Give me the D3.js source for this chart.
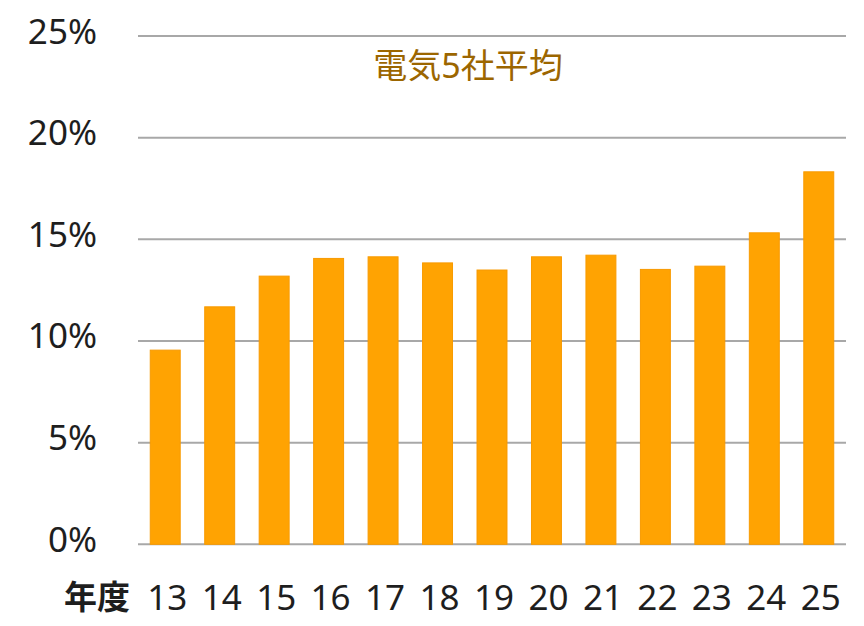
<!DOCTYPE html>
<html>
<head>
<meta charset="utf-8">
<script src="https://cdn.jsdelivr.net/npm/d3@7"></script>
<style>
    html, body { margin: 0; padding: 0; background: #fff; }
    svg { display: block; }
</style>
</head>
<body>
<svg id="chart" width="864" height="626"></svg>
<script>
// Fiscal years (x categories)
var years = ["13", "14", "15", "16", "17", "18", "19", "20", "21", "22", "23", "24", "25"];
// Average of five electric companies, percent
var avgValues = [9.55, 11.68, 13.19, 14.06, 14.14, 13.84, 13.49, 14.14, 14.22, 13.52, 13.68, 15.32, 18.32];
// Y ticks
var yTicks = [0, 5, 10, 15, 20, 25];

var chartTitle = "電気5社平均";
var xAxisLabel = "年度";

var svg = d3.select("#chart");
var fontFamily = "'Noto Sans', 'Noto Sans CJK JP', sans-serif";

// Plot area
var plotLeft = 138, plotRight = 846, plotTop = 36, plotBottom = 544.3;

var x = d3.scaleBand()
    .domain(years)
    .range([plotLeft, plotRight])
    .paddingInner(0.45)
    .paddingOuter(0.225);

var y = d3.scaleLinear()
    .domain([0, 25])
    .range([plotBottom, plotTop]);

// Gridlines
svg.append("g")
    .selectAll("line")
    .data(yTicks)
    .enter()
    .append("line")
    .attr("x1", plotLeft)
    .attr("x2", plotRight)
    .attr("y1", function (d) { return y(d); })
    .attr("y2", function (d) { return y(d); })
    .attr("stroke", "#a8a8a8")
    .attr("stroke-width", 2);

// Y tick labels
svg.append("g")
    .selectAll("text")
    .data(yTicks)
    .enter()
    .append("text")
    .attr("x", 97)
    .attr("y", function (d) { return y(d) - 6; })
    .attr("text-anchor", "end")
    .attr("dominant-baseline", "central")
    .style("font-family", fontFamily)
    .style("font-size", "35px")
    .attr("fill", "#1e1e1e")
    .text(function (d) { return d + "%"; });

// Bars
svg.append("g")
    .selectAll("rect")
    .data(avgValues)
    .enter()
    .append("rect")
    .attr("x", function (d, i) { return x(years[i]); })
    .attr("y", function (d) { return y(d); })
    .attr("width", x.bandwidth())
    .attr("height", function (d) { return y(0) - y(d); })
    .attr("fill", "#ffa302")
    .attr("stroke", "#f89a00")
    .attr("stroke-width", 1);

// X tick labels
svg.append("g")
    .selectAll("text")
    .data(years)
    .enter()
    .append("text")
    .attr("x", function (d) { return x(d) + x.bandwidth() / 2 + 2; })
    .attr("y", 596)
    .attr("text-anchor", "middle")
    .attr("dominant-baseline", "central")
    .style("font-family", fontFamily)
    .style("font-size", "35px")
    .attr("fill", "#1e1e1e")
    .text(function (d) { return d; });

// X axis label
svg.append("text")
    .attr("x", 97)
    .attr("y", 596)
    .attr("text-anchor", "middle")
    .attr("dominant-baseline", "central")
    .style("font-family", fontFamily)
    .style("font-size", "33px")
    .style("font-weight", "bold")
    .attr("fill", "#1e1e1e")
    .text(xAxisLabel);

// Title
svg.append("text")
    .attr("x", 468)
    .attr("y", 65)
    .attr("text-anchor", "middle")
    .attr("dominant-baseline", "central")
    .style("font-family", fontFamily)
    .style("font-size", "34px")
    .attr("fill", "#9c6600")
    .text(chartTitle);
</script>
</body>
</html>
